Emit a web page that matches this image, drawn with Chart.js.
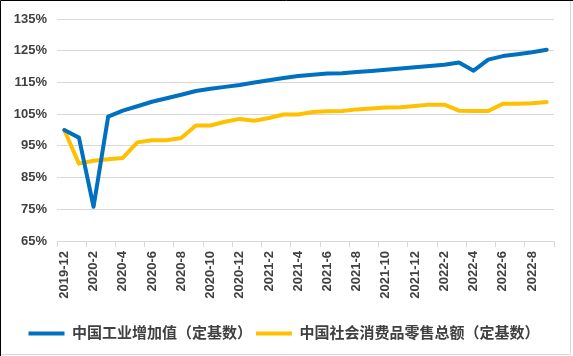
<!DOCTYPE html>
<html>
<head>
<meta charset="utf-8">
<script src="https://cdn.jsdelivr.net/npm/chart.js@4/dist/chart.umd.min.js"></script>
<style>
  html, body { margin: 0; padding: 0; background: #ffffff; }
  #wrap { width: 573px; height: 356px; position: relative; }
</style>
</head>
<body>
<div id="wrap"><canvas id="c" width="573" height="356"></canvas></div>
<script>
const categories = [
  '2019-12',
  '2020-1','2020-2','2020-3','2020-4','2020-5','2020-6','2020-7','2020-8','2020-9','2020-10','2020-11','2020-12',
  '2021-1','2021-2','2021-3','2021-4','2021-5','2021-6','2021-7','2021-8','2021-9','2021-10','2021-11','2021-12',
  '2022-1','2022-2','2022-3','2022-4','2022-5','2022-6','2022-7','2022-8','2022-9'
];
const industrialValues = [
  100.0,
  97.6, 75.8, 104.2, 106.1, 107.5, 108.9, 110.0, 111.1, 112.3, 113.0, 113.6, 114.2,
  115.0, 115.7, 116.4, 117.0, 117.4, 117.8, 117.9, 118.3, 118.6, 119.0, 119.4, 119.8,
  120.2, 120.6, 121.3, 118.7, 122.2, 123.3, 123.9, 124.5, 125.3
];
const retailValues = [
  100.0,
  89.4, 90.3, 90.8, 91.2, 96.1, 96.8, 96.8, 97.5, 101.4, 101.4, 102.6, 103.5,
  102.9, 103.8, 104.9, 104.9, 105.7, 105.9, 106.0, 106.5, 106.8, 107.1, 107.2, 107.6,
  108.0, 108.0, 106.1, 106.0, 106.0, 108.3, 108.3, 108.4, 108.8
];
const seriesNames = ['中国工业增加值（定基数）', '中国社会消费品零售总额（定基数）'];
const yTickValues = [65, 75, 85, 95, 105, 115, 125, 135];

const FONT = '"Liberation Sans", "Noto Sans CJK SC", sans-serif';
const TEXT = '#404040';
const GRID = '#d9d9d9';

const frame = {
  id: 'frame',
  beforeUpdate(chart) {
    if (chart.legend && !chart.legend.__patched) {
      const orig = chart.legend.fit;
      chart.legend.fit = function () { orig.call(this); this.height = 34; };
      chart.legend.__patched = true;
    }
  },
  afterDraw(chart) {
    const ctx = chart.ctx;
    ctx.save();
    ctx.lineWidth = 1;
    ctx.strokeStyle = '#d9d9d9';
    ctx.beginPath();
    ctx.moveTo(570.5, 0); ctx.lineTo(570.5, 354.5); ctx.lineTo(0, 354.5);
    ctx.stroke();
    ctx.strokeStyle = '#000000';
    ctx.beginPath();
    ctx.moveTo(0.5, 356); ctx.lineTo(0.5, 0.5); ctx.lineTo(573, 0.5);
    ctx.stroke();
    ctx.restore();
  }
};

new Chart(document.getElementById('c'), {
  type: 'line',
  data: {
    labels: categories,
    datasets: [
      {
        label: seriesNames[0],
        data: industrialValues,
        borderColor: '#0070C0',
        backgroundColor: '#0070C0',
        borderWidth: 4,
        pointRadius: 0,
        tension: 0,
        borderJoinStyle: 'round',
        borderCapStyle: 'round',
        pointStyle: 'line'
      },
      {
        label: seriesNames[1],
        data: retailValues,
        borderColor: '#FFC000',
        backgroundColor: '#FFC000',
        borderWidth: 4,
        pointRadius: 0,
        tension: 0,
        borderJoinStyle: 'round',
        borderCapStyle: 'round',
        pointStyle: 'line'
      }
    ]
  },
  options: {
    responsive: false,
    animation: false,
    devicePixelRatio: 1,
    layout: { padding: { top: 19, right: 19, left: 14, bottom: 0 } },
    plugins: {
      tooltip: { enabled: false },
      legend: {
        position: 'bottom',
        labels: {
          usePointStyle: true,
          pointStyleWidth: 36,
          boxHeight: 15,
          padding: 4,
          color: TEXT,
          font: { family: FONT, size: 15, weight: 'bold' }
        }
      }
    },
    scales: {
      x: {
        offset: true,
        grid: {
          offset: true,
          drawOnChartArea: false,
          drawTicks: true,
          tickLength: 6,
          color: GRID,
          tickColor: (ctx) => (ctx.index === undefined || ctx.index % 2 === 0) ? GRID : 'rgba(0,0,0,0)'
        },
        border: { display: true, color: GRID, width: 1 },
        ticks: {
          autoSkip: false,
          minRotation: 90,
          maxRotation: 90,
          padding: 4,
          color: TEXT,
          font: { family: FONT, size: 13, weight: 'bold' },
          callback: function (value, index) { return index % 2 === 0 ? categories[index] : ''; }
        },
        afterFit: (scale) => { scale.height = 81; }
      },
      y: {
        min: 65,
        max: 135,
        afterBuildTicks: (scale) => { scale.ticks = yTickValues.map(v => ({ value: v })); },
        grid: { color: GRID, lineWidth: 1, drawTicks: false },
        border: { display: false },
        ticks: {
          padding: 10,
          color: TEXT,
          font: { family: FONT, size: 13, weight: 'bold' },
          callback: (v) => v + '%'
        },
        afterFit: (scale) => { scale.width = 43; }
      }
    }
  },
  plugins: [frame]
});
</script>
</body>
</html>
